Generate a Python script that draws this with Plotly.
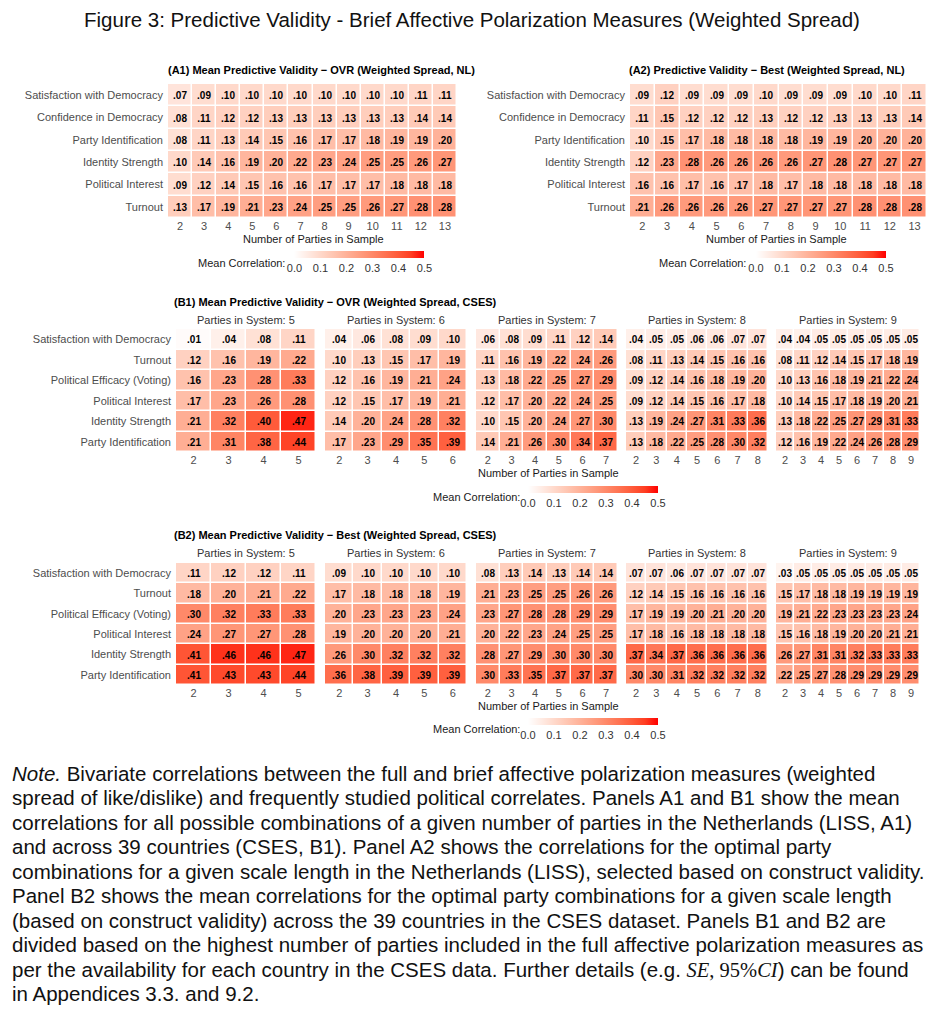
import numpy as np
import plotly.graph_objects as go

# ---------------- DATA ----------------
A_ROWS = ["Satisfaction with Democracy", "Confidence in Democracy", "Party Identification",
          "Identity Strength", "Political Interest", "Turnout"]
A_PARTIES = list(range(2, 14))

A1_VALUES = [
    [.07, .09, .10, .10, .10, .10, .10, .10, .10, .10, .11, .11],
    [.08, .11, .12, .12, .13, .13, .13, .13, .13, .13, .14, .14],
    [.08, .11, .13, .14, .15, .16, .17, .17, .18, .19, .19, .20],
    [.10, .14, .16, .19, .20, .22, .23, .24, .25, .25, .26, .27],
    [.09, .12, .14, .15, .16, .16, .17, .17, .17, .18, .18, .18],
    [.13, .17, .19, .21, .23, .24, .25, .25, .26, .27, .28, .28],
]
A2_VALUES = [
    [.09, .12, .09, .09, .09, .10, .09, .09, .09, .10, .10, .11],
    [.11, .15, .12, .12, .12, .13, .12, .12, .13, .13, .13, .14],
    [.10, .15, .17, .18, .18, .18, .18, .19, .19, .20, .20, .20],
    [.12, .23, .28, .26, .26, .26, .26, .27, .28, .27, .27, .27],
    [.16, .16, .17, .16, .17, .18, .17, .18, .18, .18, .18, .18],
    [.21, .26, .26, .26, .26, .27, .27, .27, .27, .28, .28, .28],
]

B_ROWS = ["Satisfaction with Democracy", "Turnout", "Political Efficacy (Voting)",
          "Political Interest", "Identity Strength", "Party Identification"]
B_SYSTEMS = [5, 6, 7, 8, 9]

B1_SYS5 = [[.01, .04, .08, .11], [.12, .16, .19, .22], [.16, .23, .28, .33],
           [.17, .23, .26, .28], [.21, .32, .40, .47], [.21, .31, .38, .44]]
B1_SYS6 = [[.04, .06, .08, .09, .10], [.10, .13, .15, .17, .19], [.12, .16, .19, .21, .24],
           [.12, .15, .17, .19, .21], [.14, .20, .24, .28, .32], [.17, .23, .29, .35, .39]]
B1_SYS7 = [[.06, .08, .09, .11, .12, .14], [.11, .16, .19, .22, .24, .26],
           [.13, .18, .22, .25, .27, .29], [.12, .17, .20, .22, .24, .25],
           [.10, .15, .20, .24, .27, .30], [.14, .21, .26, .30, .34, .37]]
B1_SYS8 = [[.04, .05, .05, .06, .06, .07, .07], [.08, .11, .13, .14, .15, .16, .16],
           [.09, .12, .14, .16, .18, .19, .20], [.09, .12, .14, .15, .16, .17, .18],
           [.13, .19, .24, .27, .31, .33, .36], [.13, .18, .22, .25, .28, .30, .32]]
B1_SYS9 = [[.04, .04, .05, .05, .05, .05, .05, .05], [.08, .11, .12, .14, .15, .17, .18, .19],
           [.10, .13, .16, .18, .19, .21, .22, .24], [.10, .14, .15, .17, .18, .19, .20, .21],
           [.13, .18, .22, .25, .27, .29, .31, .33], [.12, .16, .19, .22, .24, .26, .28, .29]]

B2_SYS5 = [[.11, .12, .12, .11], [.18, .20, .21, .22], [.30, .32, .33, .33],
           [.24, .27, .27, .28], [.41, .46, .46, .47], [.41, .43, .43, .44]]
B2_SYS6 = [[.09, .10, .10, .10, .10], [.17, .18, .18, .18, .19], [.20, .23, .23, .23, .24],
           [.19, .20, .20, .20, .21], [.26, .30, .32, .32, .32], [.36, .38, .39, .39, .39]]
B2_SYS7 = [[.08, .13, .14, .13, .14, .14], [.21, .23, .25, .25, .26, .26],
           [.23, .27, .28, .28, .29, .29], [.20, .22, .23, .24, .25, .25],
           [.28, .27, .29, .30, .30, .30], [.30, .33, .35, .37, .37, .37]]
B2_SYS8 = [[.07, .07, .06, .07, .07, .07, .07], [.12, .14, .15, .16, .16, .16, .16],
           [.17, .19, .19, .20, .21, .20, .20], [.17, .18, .16, .18, .18, .18, .18],
           [.37, .34, .37, .36, .36, .36, .36], [.30, .30, .31, .32, .32, .32, .32]]
B2_SYS9 = [[.03, .05, .05, .05, .05, .05, .05, .05], [.15, .17, .18, .18, .19, .19, .19, .19],
           [.19, .21, .22, .23, .23, .23, .23, .24], [.15, .16, .18, .19, .20, .20, .21, .21],
           [.26, .27, .31, .31, .32, .33, .33, .33], [.22, .25, .27, .28, .29, .29, .29, .29]]

LEGEND_TICKS = [0.0, 0.1, 0.2, 0.3, 0.4, 0.5]

FIG_TITLE = "Figure 3: Predictive Validity - Brief Affective Polarization Measures (Weighted Spread)"
PANEL_TITLES = {
    "A1": "(A1) Mean Predictive Validity \u2212 OVR (Weighted Spread, NL)",
    "A2": "(A2) Predictive Validity \u2212 Best (Weighted Spread, NL)",
    "B1": "(B1) Mean Predictive Validity \u2212 OVR (Weighted Spread, CSES)",
    "B2": "(B2) Mean Predictive Validity \u2212 Best (Weighted Spread, CSES)",
}
X_TITLE = "Number of Parties in Sample"
LEGEND_TITLE = "Mean Correlation:"
NOTE_LINES = [
    "<i>Note.</i> Bivariate correlations between the full and brief affective polarization measures (weighted",
    "spread of like/dislike) and frequently studied political correlates. Panels A1 and B1 show the mean",
    "correlations for all possible combinations of a given number of parties in the Netherlands (LISS, A1)",
    "and across 39 countries (CSES, B1). Panel A2 shows the correlations for the optimal party",
    "combinations for a given scale length in the Netherlands (LISS), selected based on construct validity.",
    "Panel B2 shows the mean correlations for the optimal party combinations for a given scale length",
    "(based on construct validity) across the 39 countries in the CSES dataset. Panels B1 and B2 are",
    "divided based on the highest number of parties included in the full affective polarization measures as",
    "per the availability for each country in the CSES data. Further details (e.g. "
    "<span style='font-family:Liberation Serif'><i>SE</i>, 95%<i>CI</i></span>) can be found",
    "in Appendices 3.3. and 9.2.",
]

# ---------------- STYLE / LAYOUT ----------------
W, H = 940, 1030
FONT = "Liberation Sans"


def fx(x):
    return x / W


def fy(y):
    return 1 - y / H


def lab_to_hex(L, a, b):
    fyv = (L + 16) / 116
    fxv = fyv + a / 500
    fzv = fyv - b / 200

    def finv(t):
        return t ** 3 if t ** 3 > 0.008856 else (t - 16 / 116) / 7.787
    X, Y, Z = 0.95047 * finv(fxv), finv(fyv), 1.08883 * finv(fzv)
    r = 3.2406 * X - 1.5372 * Y - 0.4986 * Z
    g = -0.9689 * X + 1.8758 * Y + 0.0415 * Z
    bb = 0.0557 * X - 0.2040 * Y + 1.0570 * Z
    out = []
    for c in (r, g, bb):
        c = 12.92 * c if c <= 0.0031308 else 1.055 * c ** (1 / 2.4) - 0.055
        out.append(int(round(min(max(c, 0), 1) * 255)))
    return "#%02x%02x%02x" % tuple(out)


# ggplot-like white -> red gradient interpolated in Lab space
LAB_W = (100.0, 0.0, 0.0)
LAB_R = (53.24, 80.09, 67.20)
COLORSCALE = []
for t in np.linspace(0, 1, 11):
    L = LAB_W[0] + (LAB_R[0] - LAB_W[0]) * t
    a = LAB_W[1] + (LAB_R[1] - LAB_W[1]) * t
    b = LAB_W[2] + (LAB_R[2] - LAB_W[2]) * t
    COLORSCALE.append([float(t), lab_to_hex(L, a, b)])


def fmt(v):
    s = f"{v:.2f}"
    return "<b>" + (s[1:] if s.startswith("0") else s) + "</b>"


B_X = [(176, 316), (325, 467), (476, 618), (626, 768), (776, 920)]
B1_VALUES = [B1_SYS5, B1_SYS6, B1_SYS7, B1_SYS8, B1_SYS9]
B2_VALUES = [B2_SYS5, B2_SYS6, B2_SYS7, B2_SYS8, B2_SYS9]

panels = [
    dict(vals=A1_VALUES, xs=A_PARTIES, rows=A_ROWS, xr=(168, 457), yr=(84, 218), ylab=True, ca="coloraxis"),
    dict(vals=A2_VALUES, xs=A_PARTIES, rows=A_ROWS, xr=(630, 927), yr=(84, 218), ylab=True, ca="coloraxis2"),
]
for k, s in enumerate(B_SYSTEMS):
    panels.append(dict(vals=B1_VALUES[k], xs=list(range(2, s + 1)), rows=B_ROWS, xr=B_X[k],
                       yr=(329, 452), ylab=(k == 0), ca="coloraxis3"))
for k, s in enumerate(B_SYSTEMS):
    panels.append(dict(vals=B2_VALUES[k], xs=list(range(2, s + 1)), rows=B_ROWS, xr=B_X[k],
                       yr=(563, 685), ylab=(k == 0), ca="coloraxis4"))

fig = go.Figure()
layout = dict(
    width=W, height=H, margin=dict(l=0, r=0, t=0, b=0),
    paper_bgcolor="white", plot_bgcolor="white",
    font=dict(family=FONT, color="#333333"),
    showlegend=False,
)

for i, p in enumerate(panels, start=1):
    sfx = "" if i == 1 else str(i)
    xa, ya = "x" + sfx, "y" + sfx
    text = [[fmt(v) for v in row] for row in p["vals"]]
    fig.add_trace(go.Heatmap(
        z=p["vals"], x=p["xs"], y=p["rows"], text=text, texttemplate="%{text}",
        textfont=dict(family=FONT, size=10, color="black"),
        coloraxis=p["ca"], xgap=1.5, ygap=1.5, hoverinfo="skip",
        xaxis=xa, yaxis=ya,
    ))
    layout["xaxis" + sfx] = dict(
        domain=[fx(p["xr"][0]), fx(p["xr"][1])], anchor=ya,
        range=[p["xs"][0] - 0.5, p["xs"][-1] + 0.5],
        tickvals=p["xs"], ticktext=[str(v) for v in p["xs"]],
        tickfont=dict(family=FONT, size=11, color="#4d4d4d"),
        showgrid=False, zeroline=False, showline=False, ticks="", fixedrange=True,
    )
    layout["yaxis" + sfx] = dict(
        domain=[fy(p["yr"][1]), fy(p["yr"][0])], anchor=xa,
        type="category", categoryorder="array", categoryarray=p["rows"],
        autorange="reversed", showticklabels=p["ylab"],
        tickfont=dict(family=FONT, size=11, color="#4d4d4d"),
        showgrid=False, zeroline=False, showline=False, ticks="", ticklabelstandoff=4,
        fixedrange=True,
    )

# colour axes + horizontal colorbars
cbars = {
    "coloraxis": (359.5, 251),
    "coloraxis2": (821, 251),
    "coloraxis3": (593, 486),
    "coloraxis4": (593, 718),
}
for name, (cx, top) in cbars.items():
    layout[name] = dict(
        colorscale=COLORSCALE, cmin=0, cmax=0.5,
        colorbar=dict(
            orientation="h", x=fx(cx), xanchor="center", y=fy(top), yanchor="top",
            len=130, lenmode="pixels", thickness=7, outlinewidth=0, xpad=0, ypad=0,
            tickvals=LEGEND_TICKS, ticktext=[f"{v:.1f}" for v in LEGEND_TICKS],
            tickfont=dict(family=FONT, size=11, color="#333333"), ticks="",
        ),
    )

ann = []


def add_text(x, y, text, size, color="#000000", xanchor="center", yanchor="middle"):
    ann.append(dict(x=fx(x), y=fy(y), xref="paper", yref="paper", text=text, showarrow=False,
                    xanchor=xanchor, yanchor=yanchor,
                    font=dict(family=FONT, size=size, color=color)))


add_text(472, 20, FIG_TITLE, 20.5, "#111111")
add_text(166, 70, "<b>" + PANEL_TITLES["A1"] + "</b>", 11, xanchor="left")
add_text(627, 70, "<b>" + PANEL_TITLES["A2"] + "</b>", 11, xanchor="left")
add_text(172, 302, "<b>" + PANEL_TITLES["B1"] + "</b>", 11, xanchor="left")
add_text(172, 535, "<b>" + PANEL_TITLES["B2"] + "</b>", 11, xanchor="left")

for (x0, x1), s in zip(B_X, B_SYSTEMS):
    add_text((x0 + x1) / 2, 320, f"Parties in System: {s}", 11, "#333333")
    add_text((x0 + x1) / 2, 553, f"Parties in System: {s}", 11, "#333333")

add_text(313, 239, X_TITLE, 11, "#1a1a1a")
add_text(776, 239, X_TITLE, 11, "#1a1a1a")
add_text(548, 473, X_TITLE, 11, "#1a1a1a")
add_text(548, 706, X_TITLE, 11, "#1a1a1a")

add_text(287, 263, LEGEND_TITLE, 11, "#1a1a1a", xanchor="right")
add_text(748, 263, LEGEND_TITLE, 11, "#1a1a1a", xanchor="right")
add_text(522, 497, LEGEND_TITLE, 11, "#1a1a1a", xanchor="right")
add_text(522, 729, LEGEND_TITLE, 11, "#1a1a1a", xanchor="right")

for k, line in enumerate(NOTE_LINES):
    add_text(10, 773 + k * 24.5, line, 20.5, "#111111", xanchor="left")

layout["annotations"] = ann
fig.update_layout(**layout)

fig.write_html("out.html", config={"displayModeBar": False},
               post_script="document.body.style.margin='0';")
